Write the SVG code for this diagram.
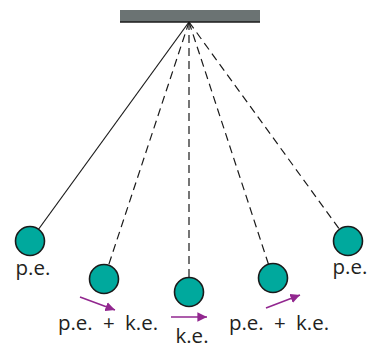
<svg xmlns="http://www.w3.org/2000/svg" width="367" height="345" viewBox="0 0 367 345">
<style>
.s{stroke:#1a1a1a;stroke-width:1.2;fill:none}
.d{stroke-dasharray:8 5}
.b{fill:#00A99D;stroke:#1a1a1a;stroke-width:1.6}
.a{stroke:#92278F;stroke-width:1.6;fill:none}
.t{font-family:"Open Sans",sans-serif;font-size:20.5px;fill:#231f20;word-spacing:5px}
</style>
<defs>
<marker id="ah" viewBox="0 0 10 10" refX="10" refY="5" markerWidth="6" markerHeight="6" markerUnits="strokeWidth" orient="auto">
<path d="M0,0 L10,5 L0,10 z" fill="#92278F"/>
</marker>
</defs>
<g id="support">
<rect x="120" y="10" width="140" height="12" fill="#6b7373"/>
<line x1="120" y1="22" x2="260" y2="22" stroke="#1a1a1a" stroke-width="1.5"/>
</g>
<g id="connectors">
<line class="s" x1="189" y1="22" x2="30" y2="241"/>
<line class="s d" x1="189" y1="22" x2="104" y2="279"/>
<line class="s d" x1="189" y1="22" x2="189" y2="292"/>
<line class="s d" x1="189" y1="22" x2="273" y2="278"/>
<line class="s d" x1="189" y1="22" x2="348" y2="241"/>
<line class="a" x1="80" y1="297" x2="115" y2="310" marker-end="url(#ah)"/>
<line class="a" x1="171" y1="317" x2="207" y2="317" marker-end="url(#ah)"/>
<line class="a" x1="266" y1="308" x2="300" y2="295" marker-end="url(#ah)"/>
</g>
<g id="bob1"><circle class="b" cx="30" cy="241" r="14.5"/><text class="t" x="33" y="275" text-anchor="middle">p.e.</text></g>
<g id="bob2"><circle class="b" cx="104" cy="279" r="14.5"/><text class="t" x="108" y="330" text-anchor="middle">p.e. + k.e.</text></g>
<g id="bob3"><circle class="b" cx="189" cy="292" r="14.5"/><text class="t" x="192" y="343" text-anchor="middle">k.e.</text></g>
<g id="bob4"><circle class="b" cx="273" cy="278" r="14.5"/><text class="t" x="279" y="330" text-anchor="middle">p.e. + k.e.</text></g>
<g id="bob5"><circle class="b" cx="348" cy="241" r="14.5"/><text class="t" x="350" y="274" text-anchor="middle">p.e.</text></g>
</svg>
